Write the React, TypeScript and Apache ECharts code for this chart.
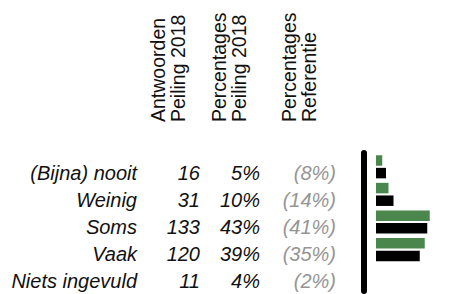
import React, { useEffect, useRef } from "react";
import * as echarts from "echarts";

const categories = ["(Bijna) nooit", "Weinig", "Soms", "Vaak", "Niets ingevuld"];
const counts2018 = [16, 31, 133, 120, 11];
const pct2018 = [5, 10, 43, 39, 4];
const pctRef = [8, 14, 41, 35, 2];
const showBar = [true, true, true, true, false];
const headers = ["Antwoorden\nPeiling 2018", "Percentages\nPeiling 2018", "Percentages\nReferentie"];

const FONT = "'Liberation Sans', Arial, Helvetica, sans-serif";
const FS = 20;
const HFS = 19.5;

export default function App() {
  const ref = useRef<HTMLDivElement>(null);
  useEffect(() => {
    if (!ref.current) return;
    const chart = echarts.init(ref.current, undefined, { renderer: "svg" });

    const columns = [
      { right: 137, labels: categories, color: "#111" },
      { right: 200, labels: counts2018.map(String), color: "#111" },
      { right: 260, labels: pct2018.map((v) => v + "%"), color: "#111" },
      { right: 336, labels: pctRef.map((v) => "(" + v + "%)"), color: "#959595" },
    ];

    const grids: any[] = [];
    const xAxes: any[] = [];
    const yAxes: any[] = [];
    columns.forEach((c, i) => {
      grids.push({ left: c.right, top: 160, height: 136, width: 1 });
      xAxes.push({ gridIndex: i, type: "value", show: false });
      yAxes.push({
        gridIndex: i,
        type: "category",
        inverse: true,
        data: categories,
        axisLine: { show: false },
        axisTick: { show: false },
        splitLine: { show: false },
        axisLabel: {
          interval: 0,
          margin: 0,
          fontSize: FS,
          fontStyle: "italic",
          fontFamily: FONT,
          color: c.color,
          formatter: (_v: string, idx: number) => c.labels[idx],
        },
      });
    });

    const bi = columns.length;
    grids.push({ left: 376, top: 153, height: 138, width: 75 });
    xAxes.push({ gridIndex: bi, type: "value", min: 0, max: 60, show: false });
    yAxes.push({
      gridIndex: bi,
      type: "category",
      inverse: true,
      data: categories,
      offset: 12,
      axisLine: { show: true, onZero: false, lineStyle: { color: "#000", width: 6 } },
      axisTick: { show: false },
      axisLabel: { show: false },
      splitLine: { show: false },
    });

    chart.setOption({
      animation: false,
      grid: grids,
      xAxis: xAxes,
      yAxis: yAxes,
      graphic: headers.map((h, i) => ({
        type: "text",
        x: [167.5, 229, 299][i],
        y: 122,
        rotation: Math.PI / 2,
        style: {
          text: h,
          fontSize: HFS,
          fontFamily: FONT,
          lineHeight: 20,
          fill: "#111",
          align: "left",
          verticalAlign: "middle",
        },
      })),
      series: [
        {
          type: "bar",
          name: "Peiling 2018",
          xAxisIndex: bi,
          yAxisIndex: bi,
          data: pct2018.map((v, i) => (showBar[i] ? v : "-")),
          barWidth: 10.5,
          itemStyle: { color: "#4b874d" },
        },
        {
          type: "bar",
          name: "Referentie",
          xAxisIndex: bi,
          yAxisIndex: bi,
          data: pctRef.map((v, i) => (showBar[i] ? v : "-")),
          barWidth: 10.5,
          barGap: "20%",
          itemStyle: { color: "#000" },
        },
      ],
    });
    return () => chart.dispose();
  }, []);
  return (
    <div
      ref={ref}
      style={{ position: "fixed", left: 0, top: 0, width: 467, height: 294, background: "#fff" }}
    />
  );
}
